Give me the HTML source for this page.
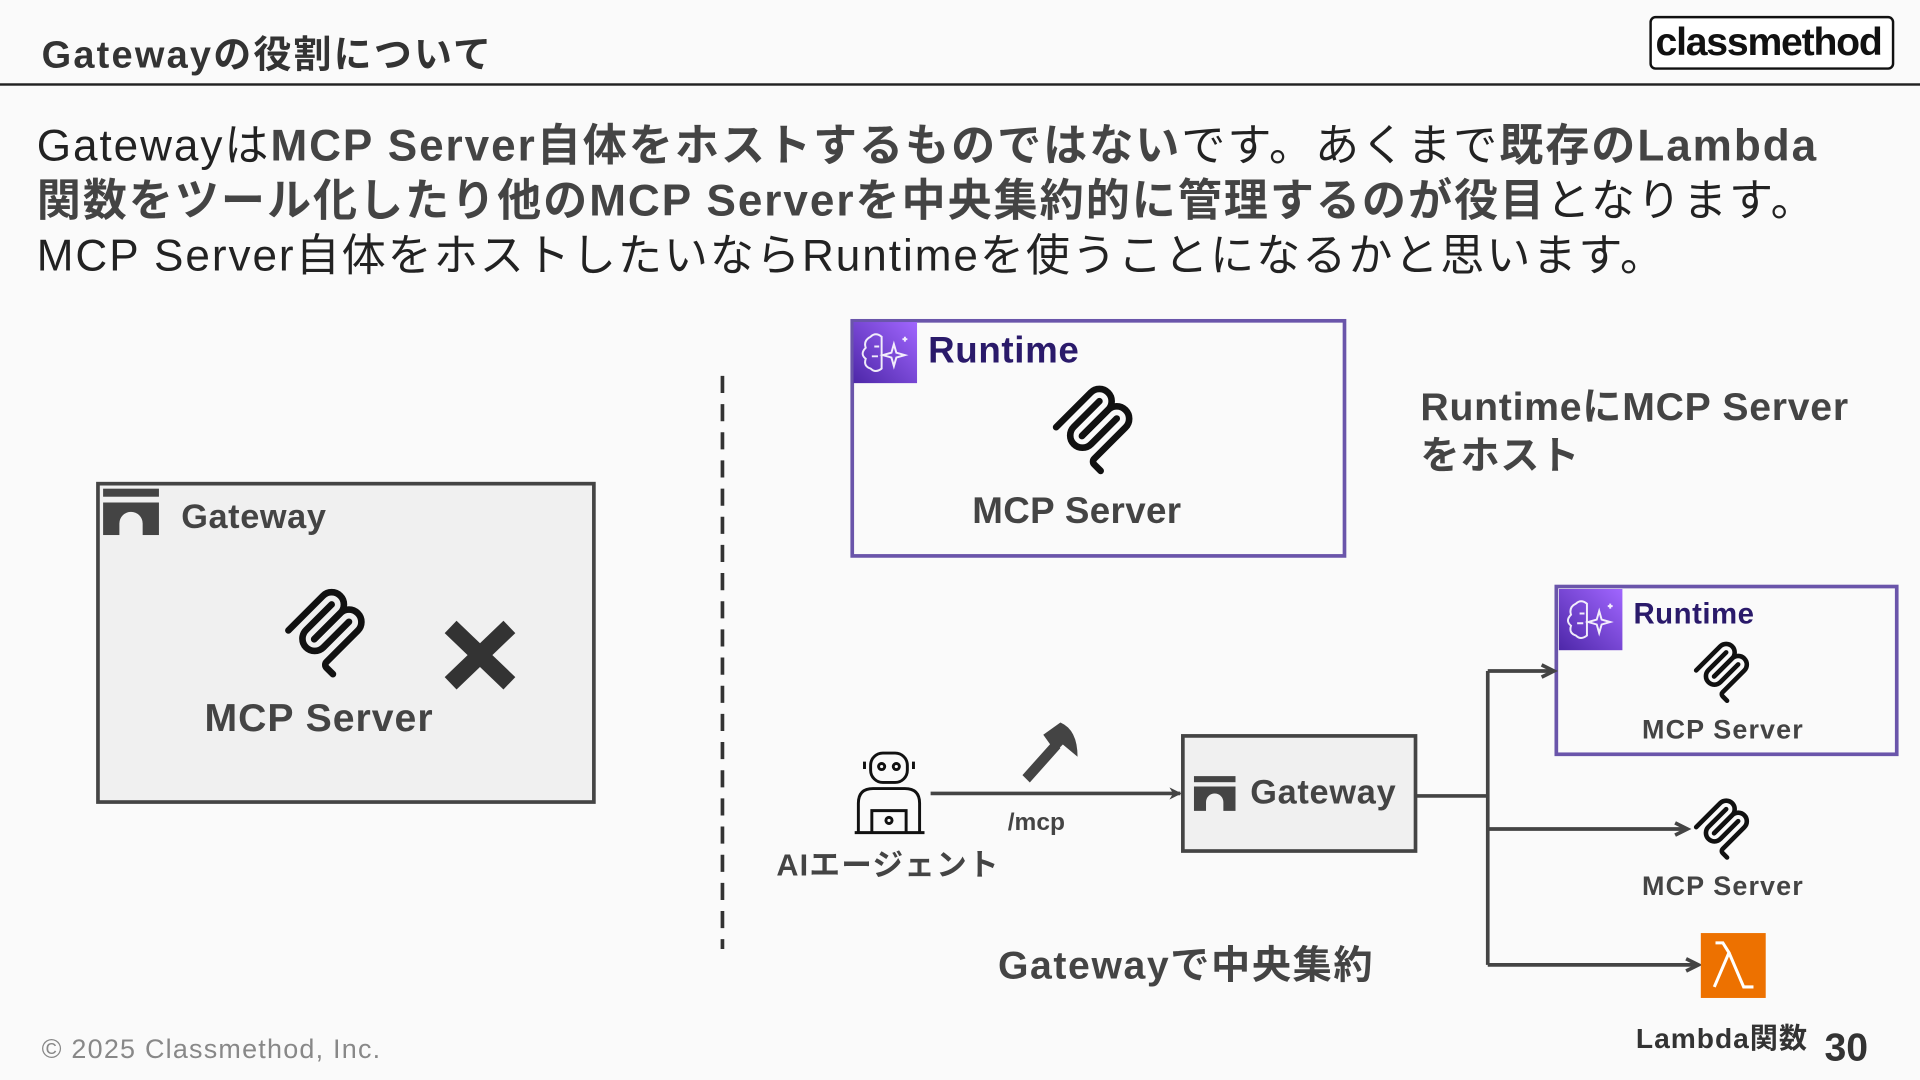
<!DOCTYPE html>
<html><head><meta charset="utf-8"><style>
html,body{margin:0;padding:0;background:#fafafa;overflow:hidden}
#s{position:absolute;left:0;top:0;width:1568px;height:882px;transform:scale(1.22449);transform-origin:0 0;font-family:"Liberation Sans","Noto Sans CJK JP",sans-serif;color:#333}
.a{position:absolute;white-space:nowrap}
.b{font-weight:bold}
.body{font-size:36px;color:#222;line-height:45px;letter-spacing:1.6px}
.body b{color:#444}
</style></head><body><div id="s">
<svg width="0" height="0" style="position:absolute"><defs>
<symbol id="mcp" viewBox="0 0 180 180"><g fill="none" stroke="#111" stroke-width="13" stroke-linecap="round">
<path d="M18 84.85 L85.88 16.97 C95.25 7.6 110.45 7.6 119.82 16.97 C129.2 26.35 129.2 41.55 119.82 50.92 L68.56 102.19"/>
<path d="M69.27 101.48 L119.82 50.92 C129.2 41.55 144.4 41.55 153.77 50.92 L154.12 51.28 C163.49 60.65 163.49 75.85 154.12 85.22 L92.73 146.61 C89.6 149.73 89.6 154.8 92.73 157.92 L105.33 170.53"/>
<path d="M102.85 33.94 L52.65 84.15 C43.27 93.52 43.27 108.72 52.65 118.09 C62.02 127.46 77.22 127.46 86.59 118.09 L136.8 67.88"/></g></symbol>
<symbol id="gw" viewBox="0 0 48 40"><rect x="0" y="0" width="48" height="7" fill="#444"/><path d="M0 12 H48 V40 H34 V30 A10 10 0 0 0 14 30 V40 H0Z" fill="#444"/></symbol>
<linearGradient id="pg" x1="0" y1="1" x2="1" y2="0"><stop offset="0" stop-color="#4d27a8"/><stop offset="1" stop-color="#a166ff"/></linearGradient>
<symbol id="rt" viewBox="0 0 52 50"><rect width="52" height="50" fill="url(#pg)"/><g fill="none" stroke="#fff" stroke-width="1.6" opacity=".9"><path d="M14 12 q4-4 9 0 v26 q-5 4-9 0 q-6-2-4-8 q-5-4 0-9 q-2-6 4-9z M17 20 h4 M15 28 h5"/><path d="M33 18 l2 7 7 2 -7 2 -2 7 -2-7 -7-2 7-2z M42 12 v4 M40 14 h4"/></g></symbol>
<marker id="ar" markerWidth="10" markerHeight="10" refX="9" refY="5" orient="auto" markerUnits="userSpaceOnUse"><path d="M0 0 L10 5 L0 10 L3 5Z" fill="#444"/></marker>
</defs></svg>

<div class="a b" style="left:34px;top:19px;font-size:31px;color:#333;letter-spacing:1.8px">Gatewayの役割について</div>
<div class="a" style="left:0;top:68px;width:1568px;height:2px;background:#222"></div>
<div class="a" style="left:1347px;top:13px;width:196px;height:40px;border:2px solid #111;border-radius:5px;background:#fff"></div>
<div class="a b" style="left:1352px;top:16px;font-size:32px;color:#111;letter-spacing:-1px">classmethod</div>

<div class="a body" style="left:30px;top:96px">Gatewayは<b>MCP Server自体をホストするものではない</b>です。あくまで<b>既存のLambda</b></div>
<div class="a body" style="left:30px;top:141px"><b>関数をツール化したり他のMCP Serverを中央集約的に管理するのが役目</b>となります。</div>
<div class="a body" style="left:30px;top:186px">MCP Server自体をホストしたいならRuntimeを使うことになるかと思います。</div>

<svg class="a" style="left:0;top:0" width="1568" height="882">
<rect x="80" y="395" width="405" height="260" fill="#f0f0f0" stroke="#444" stroke-width="3"/>
<use href="#gw" x="83" y="399" width="48" height="38"/>
<use href="#mcp" x="228" y="478" width="75" height="78"/>
<path d="M368 512 L416 558 M416 512 L368 558" stroke="#333" stroke-width="14"/>
<line x1="590" y1="307" x2="590" y2="775" stroke="#333" stroke-width="3" stroke-dasharray="14,9"/>
<rect x="696" y="262" width="402" height="192" fill="#fafafa" stroke="#6a55aa" stroke-width="3"/>
<use href="#rt" x="697" y="263" width="52" height="50"/>
<use href="#mcp" x="855" y="312" width="75" height="78"/>
<rect x="1271" y="479" width="278" height="137" fill="#fafafa" stroke="#6a55aa" stroke-width="3"/>
<use href="#rt" x="1273" y="480" width="52" height="52"/>
<use href="#mcp" x="1380" y="522" width="52" height="54"/>
<use href="#mcp" x="1380" y="650" width="52" height="54"/>
<rect x="966" y="601" width="190" height="94" fill="#f0f0f0" stroke="#444" stroke-width="3"/>
<use href="#gw" x="975" y="633" width="34" height="30"/>
<line x1="760" y1="648" x2="964" y2="648" stroke="#444" stroke-width="3" marker-end="url(#ar)"/>
<path d="M1157 650 H1215 M1215 548 V788 M1215 548 H1269 M1215 677 H1378 M1215 788 H1387" stroke="#444" stroke-width="3" fill="none"/>
<path d="M1259 543 L1269 548 L1259 553 M1368 672 L1378 677 L1368 682 M1377 783 L1387 788 L1377 793" stroke="#444" stroke-width="3" fill="none"/>
<rect x="1389" y="762" width="53" height="53" fill="#ed7100"/>
<path d="M1400 806 L1412 778 L1407 770 L1401 770 M1412 778 L1424 806 L1432 806" stroke="#fff" stroke-width="2.5" fill="none"/>
<g fill="#444"><path d="M835 633 L860 605 L866 611 L841 639Z"/><path d="M852 600 L866 590 Q880 596 880 618 L868 608 L862 614 Z"/></g>
<g fill="none" stroke="#111" stroke-width="2.4"><rect x="711" y="615" width="30" height="24" rx="10"/><circle cx="720" cy="626" r="2.5"/><circle cx="732" cy="626" r="2.5"/><path d="M706 628 v-6 M746 628 v-6 M701 680 v-24 q0-12 12-12 h26 q12 0 12 12 v24 M698 680 h57 M712 680 v-18 h28 v18"/><circle cx="726" cy="670" r="2.5"/></g>
</svg>

<div class="a b" style="left:148px;top:406px;font-size:28px;color:#444;letter-spacing:0.5px">Gateway</div>
<div class="a b" style="left:167px;top:568px;font-size:32px;color:#444;letter-spacing:0.8px">MCP Server</div>
<div class="a b" style="left:758px;top:270px;font-size:30px;color:#2a1a6a;letter-spacing:0.5px">Runtime</div>
<div class="a b" style="left:794px;top:401px;font-size:30px;color:#444;letter-spacing:0.3px">MCP Server</div>
<div class="a b" style="left:1160px;top:312px;font-size:32px;color:#444;line-height:40px;letter-spacing:0.6px">RuntimeにMCP Server<br>をホスト</div>
<div class="a b" style="left:1334px;top:488px;font-size:24px;color:#2a1a6a;letter-spacing:0.4px">Runtime</div>
<div class="a b" style="left:1341px;top:583px;font-size:22px;color:#444;letter-spacing:0.9px">MCP Server</div>
<div class="a b" style="left:1341px;top:711px;font-size:22px;color:#444;letter-spacing:0.9px">MCP Server</div>
<div class="a b" style="left:1021px;top:631px;font-size:28px;color:#444;letter-spacing:0.6px">Gateway</div>
<div class="a b" style="left:823px;top:661px;font-size:20px;color:#444">/mcp</div>
<div class="a b" style="left:634px;top:687px;font-size:25px;color:#444;letter-spacing:1px">AIエージェント</div>
<div class="a b" style="left:815px;top:763px;font-size:32px;color:#444;letter-spacing:1.3px">Gatewayで中央集約</div>
<div class="a b" style="left:1336px;top:829px;font-size:23px;color:#333;letter-spacing:0.8px">Lambda関数</div>
<div class="a" style="left:34px;top:844px;font-size:22px;color:#888;letter-spacing:1px">© 2025 Classmethod, Inc.</div>
<div class="a b" style="left:1490px;top:837px;font-size:32px;color:#333">30</div>
</div></body></html>
